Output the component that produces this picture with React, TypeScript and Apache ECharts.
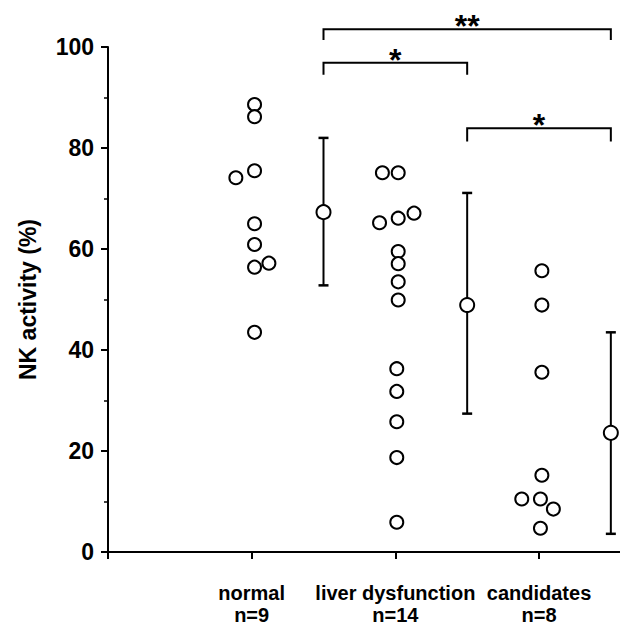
import React, { useEffect, useRef } from "react";
import * as echarts from "echarts";

const categories = ["normal", "liver dysfunction", "candidates"];
const groupSizes = [9, 14, 8];

// individual values (%) and small horizontal jitter (in category units)
const normalValues = [88.6, 86.2, 75.5, 74.1, 65.0, 60.9, 56.4, 57.2, 43.5];
const normalJitter = [0.02, 0.02, 0.02, -0.11, 0.02, 0.02, 0.02, 0.12, 0.02];
const liverValues = [75.1, 75.1, 65.2, 66.1, 67.1, 59.5, 57.1, 53.5, 49.9, 36.3, 31.8, 25.8, 18.7, 5.9];
const liverJitter = [-0.09, 0.02, -0.11, 0.02, 0.13, 0.02, 0.02, 0.02, 0.02, 0.01, 0.01, 0.01, 0.01, 0.01];
const candidateValues = [55.7, 48.9, 35.6, 15.2, 10.5, 10.5, 8.5, 4.7];
const candidateJitter = [0.02, 0.02, 0.02, 0.02, -0.12, 0.01, 0.1, 0.01];

// mean and spread per group
const groupMeans = [67.3, 48.9, 23.6];
const groupLower = [52.8, 27.4, 3.6];
const groupUpper = [82.0, 71.1, 43.5];

// significance comparisons between group summaries
const compFrom = [0, 0, 1];
const compTo = [1, 2, 2];
const compTop = [96.9, 103.5, 83.9];
const compDrop = [94.5, 101.4, 81.3];
const compLabel = ["*", "**", "*"];

const yTicks = [0, 20, 40, 60, 80, 100];

const FONT = '"Liberation Sans", Arial, Helvetica, sans-serif';

export default function App() {
  const ref = useRef<HTMLDivElement>(null);
  useEffect(() => {
    if (!ref.current) return;
    const chart = echarts.init(ref.current, null, { renderer: "svg" });

    const groups = [
      { v: normalValues, j: normalJitter },
      { v: liverValues, j: liverJitter },
      { v: candidateValues, j: candidateJitter },
    ];
    const pointData: number[][] = [];
    groups.forEach((g, gi) => {
      g.v.forEach((val, k) => pointData.push([gi + 1 + g.j[k], val]));
    });
    const meanX = (gi: number) => gi + 1.5;
    const errData = groupMeans.map((m, i) => [meanX(i), groupLower[i], groupUpper[i]]);
    const meanData = groupMeans.map((m, i) => [meanX(i), m]);
    const compData = compFrom.map((f, i) => [meanX(f), meanX(compTo[i]), compTop[i], compDrop[i], i]);

    chart.setOption({
      animation: false,
      backgroundColor: "#ffffff",
      grid: { left: 108, right: 0, top: 47, bottom: 71 },
      xAxis: {
        type: "value",
        min: 0,
        max: 3.6125,
        interval: 1,
        splitLine: { show: false },
        axisLine: { show: true, onZero: false, lineStyle: { color: "#000", width: 2 } },
        axisTick: { show: true, length: 7, lineStyle: { color: "#000", width: 2 } },
        axisLabel: {
          margin: 30,
          color: "#000",
          fontFamily: FONT,
          fontWeight: "bold",
          fontSize: 20,
          lineHeight: 22,
          align: "center",
          formatter: (v: number) => {
            const i = Math.round(v) - 1;
            if (Math.abs(v - Math.round(v)) > 1e-6 || i < 0 || i >= categories.length) return "";
            return categories[i] + "\nn=" + groupSizes[i];
          },
        },
      },
      yAxis: {
        type: "value",
        min: yTicks[0],
        max: yTicks[yTicks.length - 1],
        interval: 20,
        splitLine: { show: false },
        axisLine: { show: true, onZero: false, lineStyle: { color: "#000", width: 2 } },
        axisTick: { show: true, length: 7, lineStyle: { color: "#000", width: 2 } },
        minorTick: { show: true, splitNumber: 2, length: 4, lineStyle: { color: "#000", width: 1.5 } },
        minorSplitLine: { show: false },
        axisLabel: {
          margin: 14,
          color: "#000",
          fontFamily: FONT,
          fontWeight: "bold",
          fontSize: 23,
        },
        name: "NK activity (%)",
        nameLocation: "middle",
        nameGap: 69,
        nameTextStyle: { color: "#000", fontFamily: FONT, fontWeight: "bold", fontSize: 23 },
      },
      series: [
        {
          type: "scatter",
          data: pointData,
          symbol: "circle",
          symbolSize: 13,
          itemStyle: { color: "#fff", borderColor: "#000", borderWidth: 2, opacity: 1 },
          z: 3,
        },
        {
          type: "custom",
          data: errData,
          clip: false,
          z: 2,
          renderItem: (params: any, api: any) => {
            const x = api.value(0);
            const lo = api.coord([x, api.value(1)]);
            const hi = api.coord([x, api.value(2)]);
            const cap = 5;
            const st = { stroke: "#000", lineWidth: 2 };
            return {
              type: "group",
              children: [
                { type: "line", shape: { x1: lo[0], y1: lo[1], x2: hi[0], y2: hi[1] }, style: st },
                { type: "line", shape: { x1: hi[0] - cap, y1: hi[1], x2: hi[0] + cap, y2: hi[1] }, style: { stroke: "#000", lineWidth: 2.5 } },
                { type: "line", shape: { x1: lo[0] - cap, y1: lo[1], x2: lo[0] + cap, y2: lo[1] }, style: { stroke: "#000", lineWidth: 2.5 } },
              ],
            };
          },
        },
        {
          type: "scatter",
          data: meanData,
          symbol: "circle",
          symbolSize: 14,
          itemStyle: { color: "#fff", borderColor: "#000", borderWidth: 2, opacity: 1 },
          z: 4,
        },
        {
          type: "custom",
          data: compData,
          clip: false,
          z: 5,
          renderItem: (params: any, api: any) => {
            const x1 = api.value(0);
            const x2 = api.value(1);
            const top = api.value(2);
            const drop = api.value(3);
            const idx = api.value(4);
            const a = api.coord([x1, drop]);
            const b = api.coord([x1, top]);
            const c = api.coord([x2, top]);
            const d = api.coord([x2, drop]);
            return {
              type: "group",
              children: [
                {
                  type: "polyline",
                  shape: { points: [a, b, c, d] },
                  style: { stroke: "#000", lineWidth: 2, fill: "none" },
                },
                {
                  type: "text",
                  x: (b[0] + c[0]) / 2,
                  y: b[1] - 3,
                  style: {
                    text: compLabel[idx],
                    align: "center",
                    verticalAlign: "middle",
                    fontFamily: FONT,
                    fontWeight: "bold",
                    fontSize: 32,
                    fill: "#000",
                  },
                },
              ],
            };
          },
        },
      ],
    });
    return () => chart.dispose();
  }, []);
  return (
    <div style={{ position: "absolute", left: 0, top: 0, width: 620, height: 626, overflow: "hidden", background: "#fff" }}>
      <div ref={ref} style={{ width: 630, height: 626 }} />
    </div>
  );
}
